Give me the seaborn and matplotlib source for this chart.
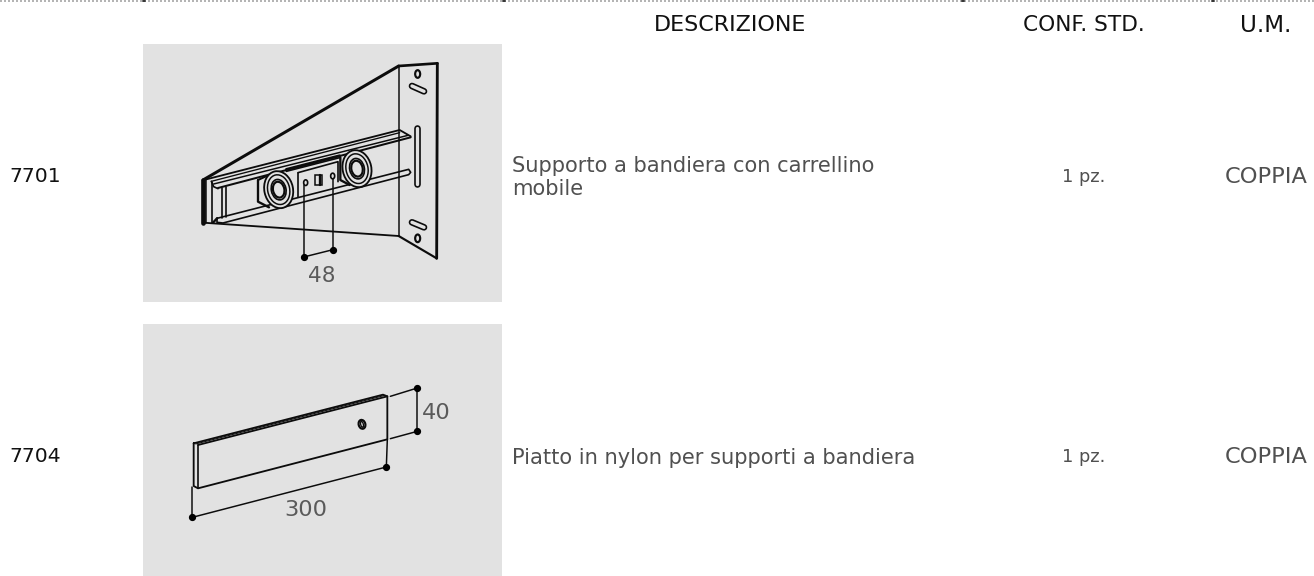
import matplotlib
matplotlib.use("Agg")
import matplotlib.pyplot as plt
from matplotlib.patches import Ellipse, Rectangle
import seaborn as sns

# Table content
headers = ["DESCRIZIONE", "CONF. STD.", "U.M."]
codes = ["7701", "7704"]
descriptions = ["Supporto a bandiera con carrellino\nmobile", "Piatto in nylon per supporti a bandiera"]
conf_std = ["1 pz.", "1 pz."]
units = ["COPPIA", "COPPIA"]
dim_labels_top = ["48"]
dim_labels_bottom = ["300", "40"]

sns.set_theme(style="white")
plt.rcParams["font.family"] = ["DejaVu Sans"]

fig = plt.figure(figsize=(13.14, 5.76), dpi=100)
ax = fig.add_axes([0, 0, 1, 1])
ax.set_xlim(0, 1314)
ax.set_ylim(576, 0)
ax.axis("off")

INK = "#0c0c0c"
TXT = "#505050"
PANEL = "#e2e2e2"


# zoom helpers: drawings were measured on 3x crops
def top(p):
    return [(143 + x / 3, 40 + y / 3) for x, y in p]


def low(p):
    return [(143 + x / 3, 320 + y / 3) for x, y in p]


def line(pts, lw=1.0, color=INK, z=3):
    sns.lineplot(x=[p[0] for p in pts], y=[p[1] for p in pts], sort=False, estimator=None,
                 color=color, linewidth=lw * 1.2, ax=ax, legend=False, zorder=z,
                 solid_capstyle="round", solid_joinstyle="round")


def ell(center, w, h, lw=1.0, angle=0, fc="none", z=5):
    ax.add_patch(Ellipse(center, w, h, angle=angle, fc=fc, ec=INK, lw=lw * 1.2, zorder=z))


def dot(p):
    ax.plot([p[0]], [p[1]], "o", color="black", ms=4.2, zorder=6)


def slot(pts):
    line(pts, 4.0)
    line(pts, 2.0, color=PANEL, z=3.5)


# Top dotted rule with its small ticks
ax.plot([0, 1314], [0.8, 0.8], color="#a5a5a5", lw=1.2, ls=(0, (1.2, 1.2)), zorder=1)
for x in [143, 503, 962, 1212]:
    ax.plot([x, x + 2], [0.8, 0.8], color="#333333", lw=1.4, zorder=2)

# Grey panels
ax.add_patch(Rectangle((143, 44), 359, 258, fc=PANEL, ec="none", zorder=0))
ax.add_patch(Rectangle((143, 324), 359, 252, fc=PANEL, ec="none", zorder=0))

# --- Bracket 7701 ---
line(top([(767, 78), (767, 588)]), 0.9)
line(top([(883, 70), (881, 655)]), 1.7)
line(top([(767, 78), (883, 70)]), 1.6)
line(top([(767, 78), (180, 420)]), 1.8)
line(top([(180, 548), (767, 588)]), 1.1)
line(top([(180, 420), (180, 548)]), 2.8)
line(top([(190, 420), (190, 548)]), 0.9)
line(top([(881, 655), (767, 588)]), 1.3)

# upper rail
line(top([(190, 418), (770, 270), (803, 289)]), 1.1)
line(top([(205, 424), (770, 278)]), 0.8)
line(top([(212, 432), (795, 286)]), 0.9)
line(top([(225, 444), (803, 292)]), 1.2)
line(top([(205, 424), (212, 440), (225, 446)]), 1.0)
# lower rod
line(top([(222, 535), (797, 388), (803, 397), (797, 404), (240, 549), (222, 547), (222, 535)]), 1.0)
line(top([(210, 548), (222, 535)]), 1.4)
# uprights at the left end
line(top([(238, 444), (238, 535)]), 1.0)
line(top([(250, 442), (250, 532)]), 1.0)
line(top([(206, 425), (206, 548)]), 1.0)

# carriage between the wheels
line(top([(465, 398), (465, 472)]), 1.0)
line(top([(465, 398), (585, 365), (585, 425)]), 1.0)
line(top([(430, 388), (590, 347)]), 1.6)
line(top([(430, 394), (590, 353)]), 1.0)
line(top([(345, 420), (345, 485), (378, 502)]), 1.4)
line(top([(345, 420), (378, 405)]), 1.2)
line(top([(592, 352), (592, 420), (620, 435)]), 1.4)
ax.add_patch(Rectangle((143 + 516 / 3, 40 + 406 / 3), 22 / 3, 28 / 3, fc="none", ec=INK, lw=1.1, zorder=4))
line(top([(530, 406), (530, 434)]), 1.4)

# wheels
for cx, cy in [(407, 449), (642, 386)]:
    px, py = 143 + cx / 3, 40 + cy / 3
    ell((px, py), 86 / 3, 112 / 3, 1.1, angle=-12, fc=PANEL)
    ell((px, py), 66 / 3, 90 / 3, 0.9, angle=-12)
    ell((px, py), 44 / 3, 62 / 3, 1.0, angle=-12)
    ell((px, py), 34 / 3, 48 / 3, 1.3, angle=-12)

# holes on the plate
for cx, cy in [(824, 102), (824, 595)]:
    ell((143 + cx / 3, 40 + cy / 3), 15 / 3, 23 / 3, 1.3)
ell((143 + 488 / 3, 40 + 428 / 3), 12 / 3, 17 / 3, 1.0)
ell((143 + 569 / 3, 40 + 408 / 3), 12 / 3, 17 / 3, 1.0)

# slots on the plate
slot(top([(807, 138), (843, 154)]))
slot(top([(807, 547), (843, 562)]))
slot(top([(822, 265), (822, 432)]))

# dimension 48
line(top([(482, 436), (482, 651)]), 0.9)
line(top([(570, 416), (570, 629)]), 0.9)
line(top([(482, 651), (570, 629)]), 0.9)
dot(top([(482, 651)])[0])
dot(top([(570, 629)])[0])
ax.text(322, 276, dim_labels_top[0], ha="center", va="center", fontsize=15.6, color="#5a5a5a")

# --- Nylon plate 7704 ---
line(low([(152, 370), (720, 224), (733, 229), (733, 358), (165, 505), (152, 498), (152, 370)]), 1.1)
line(low([(165, 375), (733, 229)]), 1.1)
line(low([(165, 375), (165, 505)]), 1.0)
line(low([(158, 372), (726, 226)]), 0.6)
ell((143 + 657 / 3, 320 + 313 / 3), 20 / 3, 27 / 3, 1.3, angle=-15)
ell((143 + 657 / 3, 320 + 313 / 3), 8 / 3, 18 / 3, 0.8, angle=-15)

# dimensions 300 and 40
line(low([(733, 358), (730, 441)]), 0.9)
line(low([(148, 500), (148, 592)]), 0.9)
line(low([(148, 592), (730, 441)]), 0.9)
line(low([(742, 229), (823, 204)]), 0.9)
line(low([(742, 356), (823, 334)]), 0.9)
line(low([(823, 204), (823, 334)]), 0.9)
for p in [(148, 592), (730, 441), (823, 204), (823, 334)]:
    dot(low([p])[0])
ax.text(305.5, 510, dim_labels_bottom[0], ha="center", va="center", fontsize=16.2, color="#5a5a5a")
ax.text(436, 413, dim_labels_bottom[1], ha="center", va="center", fontsize=16.2, color="#5a5a5a")

# --- Text columns ---
for label, x, size in zip(headers, [730.5, 1084, 1265.5], [16, 15.6, 16.6]):
    ax.text(x, 25, label, ha="center", va="center", fontsize=size, color="#111111")

for code, desc, conf, um, y in zip(codes, descriptions, conf_std, units, [176, 456]):
    ax.text(35.5, y, code, ha="center", va="center", fontsize=14.6, color="#111111")
    ax.text(512, y + 1.5, desc, ha="left", va="center", fontsize=15.1, color=TXT, linespacing=1.24)
    ax.text(1084, y + 1, conf, ha="center", va="center", fontsize=12.8, color=TXT)
    ax.text(1266, y + 1, um, ha="center", va="center", fontsize=16.2, color=TXT)

fig.savefig("out.png", dpi=100, facecolor="white")
